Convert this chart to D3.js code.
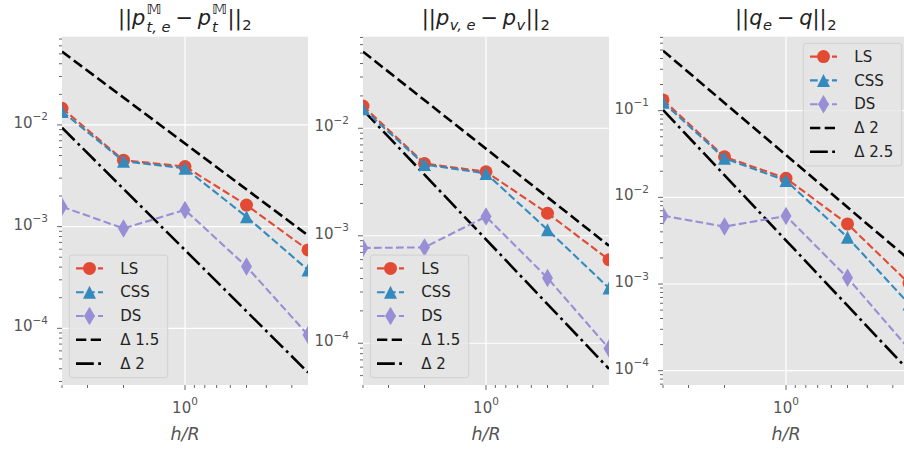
<!DOCTYPE html>
<html lang="en">
<head>
<meta charset="UTF-8" />
<title>Convergence</title>
<script src="https://d3js.org/d3.v7.min.js"></script>
<style>
  body { margin: 0; background: #fff; }
  svg { display: block; font-family: "DejaVu Sans", sans-serif; }
</style>
</head>
<body>
<div id="chart"></div>
<script>
// x data is R/h, the axis runs inverted so that h/R grows to the right
const rOverH = [4, 2, 1, 0.5, 0.25];
const methods = ["LS", "CSS", "DS"];
const colors = ["#E24A33", "#348ABD", "#988ED5"];
const symbols = ["circle", "triangle", "diamond"];

// panel 1 : ||p_t,e - p_t||
const ptLS  = [0.0146, 0.0045, 0.0039, 0.00163, 0.00059];
const ptCSS = [0.0136, 0.0044, 0.00375, 0.00125, 0.000375];
const ptDS  = [0.00157, 0.00096, 0.00146, 0.000405, 0.000086];
// panel 2 : ||p_v,e - p_v||
const pvLS  = [0.0161, 0.0047, 0.00394, 0.00162, 0.000598];
const pvCSS = [0.0152, 0.0046, 0.0038, 0.00114, 0.000326];
const pvDS  = [0.00077, 0.00078, 0.00151, 0.000405, 0.0000893];
// panel 3 : ||q_e - q||
const qLS  = [0.133, 0.0294, 0.0166, 0.00493, 0.00102];
const qCSS = [0.125, 0.0282, 0.0156, 0.00346, 0.00059];
const qDS  = [0.00614, 0.0046, 0.0061, 0.00118, 0.000178];

// reference slopes: value at left end, value at right end
const ptRef = [[0.0526, 0.00082], [0.0094, 0.0000368]];
const pvRef = [[0.0516, 0.000807], [0.0148, 0.0000578]];
const qRef  = [[0.492, 0.00192], [0.102, 0.0000995]];
const ptRefNames = ["Δ 1.5", "Δ 2"];
const pvRefNames = ["Δ 1.5", "Δ 2"];
const qRefNames  = ["Δ 2", "Δ 2.5"];

const xLimits = [4, 0.25];
const yLimits = [[0.0000277, 0.0738], [0.0000409, 0.0711], [0.0000684, 0.713]];

const panels = [
  {series: [ptLS, ptCSS, ptDS], ref: ptRef, refNames: ptRefNames, legend: "ll",
   title: [["||"], ["p", "i"], ["stack", "𝕄", "t, e"], ["−", "op"], ["p", "i"], ["stack", "𝕄", "t"], ["||"], ["2", "sub"]]},
  {series: [pvLS, pvCSS, pvDS], ref: pvRef, refNames: pvRefNames, legend: "ll",
   title: [["||"], ["p", "i"], ["v, e", "subi"], ["−", "op"], ["p", "i"], ["v", "subi"], ["||"], ["2", "sub"]]},
  {series: [qLS, qCSS, qDS], ref: qRef, refNames: qRefNames, legend: "ur",
   title: [["||"], ["q", "i"], ["e", "subi"], ["−", "op"], ["q", "i"], ["||"], ["2", "sub"]]}
];

const W = 904, H = 449;
const lefts = [62, 363, 663], pw = 246, plotTop = 36.7, ph = 348.3;
const lineDash = "7.7,3.3", refDash = ["10.3,4.4", "17.8,4.4,2.8,4.4"];

const svg = d3.select("#chart").append("svg").attr("width", W).attr("height", H);

function markerPath(type) {
  if (type === "triangle") return "M0,-6.5L6.5,6.5L-6.5,6.5Z";
  if (type === "diamond") return "M0,-9.2L5.5,0L0,9.2L-5.5,0Z";
  return d3.symbol(d3.symbolCircle, Math.PI * 6.5 * 6.5)();
}

function isDecade(t) {
  const l = Math.log10(t);
  return Math.abs(l - Math.round(l)) < 1e-6;
}

// whole title is one <text>; each piece is a tspan placed at an absolute x/y
function mathTitle(g, parts, fs) {
  const el = g.append("text").attr("fill", "#222").attr("font-size", fs).attr("xml:space", "preserve");
  const small = fs * 0.7;
  let x = 0;
  function piece(str, size, dy, italic, px) {
    const ts = el.append("tspan").attr("x", px).attr("y", dy).attr("font-size", size)
      .attr("font-style", italic ? "italic" : "normal").text(str);
    return ts.node().getComputedTextLength();
  }
  parts.forEach(p => {
    if (p[0] === "stack") {
      const a = piece(p[1], small, -fs * 0.52, false, x + 1);
      const b = piece(p[2], small, fs * 0.31, true, x + 1);
      x += Math.max(a, b) + 1.5;
    } else if (p[1] === "sub" || p[1] === "subi") {
      x += piece(p[0], small, fs * 0.25, p[1] === "subi", x + 0.5) + 1;
    } else if (p[1] === "op") {
      x += 4.5;
      x += piece(p[0], fs, 0, false, x) + 4.5;
    } else {
      x += piece(p[0], fs, 0, p[1] === "i", x);
    }
  });
  return x;
}

function powLabel(sel, t, size) {
  sel.append("tspan").text("10");
  sel.append("tspan").attr("dy", -size * 0.5).attr("font-size", size * 0.7)
    .text(Math.round(Math.log10(t)).toString().replace("-", "−"));
}

panels.forEach((pn, i) => {
  const g = svg.append("g").attr("transform", `translate(${lefts[i]},${plotTop})`);
  const x = d3.scaleLog().domain(xLimits).range([0, pw]);
  const y = d3.scaleLog().domain(yLimits[i]).range([ph, 0]);

  g.append("rect").attr("width", pw).attr("height", ph).attr("fill", "#E5E5E5");

  const clipId = "clip" + i;
  g.append("clipPath").attr("id", clipId).append("rect").attr("width", pw).attr("height", ph);

  const xt = x.ticks(), yt = y.ticks();

  // grid
  g.selectAll(".gx").data(xt.filter(isDecade)).join("line").attr("class", "gx")
    .attr("x1", d => x(d)).attr("x2", d => x(d)).attr("y1", 0).attr("y2", ph)
    .attr("stroke", "#fff").attr("stroke-width", 1.2);
  g.selectAll(".gy").data(yt.filter(isDecade)).join("line").attr("class", "gy")
    .attr("y1", d => y(d)).attr("y2", d => y(d)).attr("x1", 0).attr("x2", pw)
    .attr("stroke", "#fff").attr("stroke-width", 1.2);

  // ticks
  const tk = g.append("g").attr("stroke", "#555").attr("stroke-width", 0.9);
  xt.forEach(t => {
    const L = isDecade(t) ? 5 : 3;
    tk.append("line").attr("x1", x(t)).attr("x2", x(t)).attr("y1", ph).attr("y2", ph + L);
  });
  yt.forEach(t => {
    const L = isDecade(t) ? 5 : 3;
    tk.append("line").attr("y1", y(t)).attr("y2", y(t)).attr("x1", 0).attr("x2", -L);
  });

  xt.filter(isDecade).forEach(t => {
    const tx = g.append("text").attr("x", x(t)).attr("y", ph + 28).attr("text-anchor", "middle")
      .attr("fill", "#555").attr("font-size", 15);
    powLabel(tx, t, 15);
  });
  yt.filter(isDecade).forEach(t => {
    const tx = g.append("text").attr("x", -14).attr("y", y(t) + 3).attr("text-anchor", "end")
      .attr("fill", "#555").attr("font-size", 15);
    powLabel(tx, t, 15);
  });

  // x label
  g.append("text").attr("x", pw / 2).attr("y", ph + 55).attr("text-anchor", "middle")
    .attr("font-size", 17.5).attr("font-style", "italic").attr("fill", "#555").text("h/R");

  // plot
  const plot = g.append("g").attr("clip-path", `url(#${clipId})`);
  pn.ref.forEach((r, k) => {
    plot.append("path").datum(r)
      .attr("d", d3.line().x((d, j) => x(xLimits[j])).y(d => y(d)))
      .attr("fill", "none").attr("stroke", "#000").attr("stroke-width", 2.6)
      .attr("stroke-dasharray", refDash[k]);
  });
  pn.series.forEach((s, k) => {
    plot.append("path").datum(s)
      .attr("d", d3.line().x((d, j) => x(rOverH[j])).y(d => y(d)))
      .attr("fill", "none").attr("stroke", colors[k]).attr("stroke-width", 2.1)
      .attr("stroke-dasharray", lineDash);
    plot.selectAll(null).data(s).join("path")
      .attr("transform", (d, j) => `translate(${x(rOverH[j])},${y(d)})`)
      .attr("d", markerPath(symbols[k])).attr("fill", colors[k]);
  });

  // legend
  const lw = 98.4, lh = 122.6;
  const lx = pn.legend === "ll" ? 7.3 : pw - 7.3 - lw;
  const ly = pn.legend === "ll" ? ph - 7.3 - lh : 6.6;
  const lg = g.append("g").attr("transform", `translate(${lx},${ly})`);
  lg.append("rect").attr("width", lw).attr("height", lh).attr("rx", 3)
    .attr("fill", "#E5E5E5").attr("fill-opacity", 0.8).attr("stroke", "#d0d0d0").attr("stroke-width", 1);
  const entries = methods.map((m, k) => ({name: m, color: colors[k], dash: lineDash, sym: symbols[k], w: 2.1}))
    .concat(pn.refNames.map((m, k) => ({name: m, color: "#000", dash: refDash[k], sym: null, w: 2.6})));
  entries.forEach((e, k) => {
    const ey = 13.3 + k * 23.8;
    lg.append("line").attr("x1", 6.7).attr("x2", 33.7).attr("y1", ey).attr("y2", ey)
      .attr("stroke", e.color).attr("stroke-width", e.w).attr("stroke-dasharray", e.dash);
    if (e.sym) lg.append("path").attr("transform", `translate(20.2,${ey})`)
      .attr("d", markerPath(e.sym)).attr("fill", e.color);
    lg.append("text").attr("x", 51).attr("y", ey + 5.2).attr("font-size", 15).attr("fill", "#222").text(e.name);
  });

  // title
  const tg = svg.append("g");
  const tw = mathTitle(tg, pn.title, 21);
  tg.attr("transform", `translate(${lefts[i] + pw / 2 - tw / 2},25)`);
});
</script>
</body>
</html>
